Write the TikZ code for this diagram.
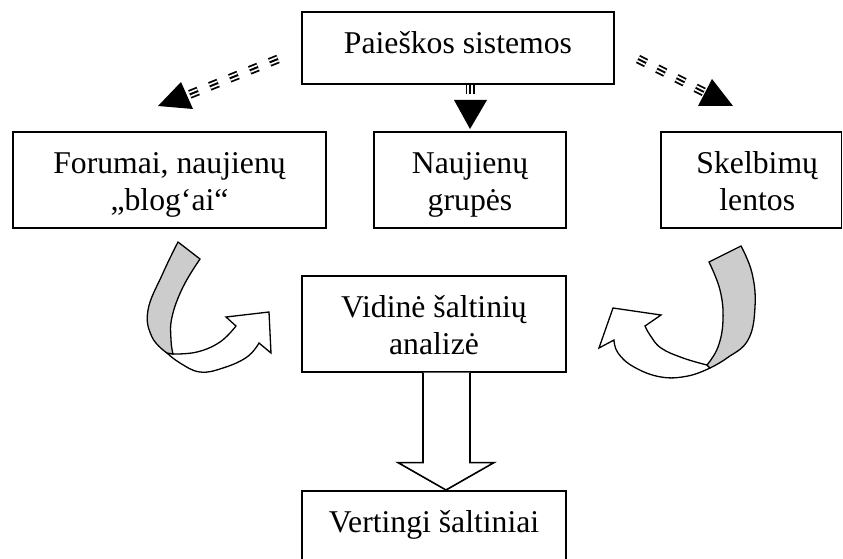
\documentclass[tikz,border=0pt]{standalone}
\usepackage{fontspec}
\setmainfont{Liberation Serif}
\usetikzlibrary{calc}
\begin{document}
\begin{tikzpicture}[x=1pt,y=-1pt,
  box/.style={draw, line width=1.6pt, inner sep=0pt, anchor=north, align=center,
    font=\fontsize{31.7pt}{37pt}\selectfont},
  tripledash/.style={line width=2pt, dash pattern=on 9pt off 12.5pt,
    preaction={draw, black, line width=9pt, dash pattern=on 9pt off 12.5pt},
    preaction={draw, white, line width=5.4pt, dash pattern=on 9pt off 12.5pt}},
  head/.style={fill=black},
  curvew/.style={draw, fill=white, line width=1.3pt, line join=miter},
  curveg/.style={draw, fill=gray!40, line width=1.3pt, line join=miter},
  bigarrow/.style={draw, fill=white, line width=1.6pt, line join=miter}]
\useasboundingbox (0,0) rectangle (843,559);

% boxes
\node[box, minimum width=312pt] (top) at (458,11) {\rule[-30pt]{0pt}{72pt}Paieškos sistemos};
\node[box, minimum width=313pt] (forum) at (169.5,131) {\rule{0pt}{42pt}Forumai, naujienų\\„blog‘ai“\rule[-17pt]{0pt}{17pt}};
\node[box, minimum width=192pt] (naujienu) at (470,131) {\rule{0pt}{42pt}Naujienų\\grupės\rule[-17pt]{0pt}{17pt}};
\node[box, minimum width=180.5pt] (skelb) at (751.25,131) {\rule{0pt}{42pt}\hspace*{12pt}Skelbimų\\\hspace*{12pt}lentos\rule[-17pt]{0pt}{17pt}};
\node[box, minimum width=264pt] (vid) at (434,275) {\rule{0pt}{42pt}Vidinė šaltinių\\analizė\rule[-17pt]{0pt}{17pt}};
\node[box, minimum width=264pt] (vert) at (434,490) {\rule[-30pt]{0pt}{72pt}Vertingi šaltiniai};

% dashed triple-line arrows
\coordinate (l0) at (278,59);
\coordinate (l1) at (187,95.5);
\draw[tripledash] (l0) -- (l1);
\fill[head] (158,106) -- (181,82) -- (193,109) -- cycle;

\coordinate (m0) at ($(top.south)+(12,0)$);
\coordinate (m1) at (470,100);
\draw[tripledash] (m0) -- (m1);
\fill[head] ($(naujienu.north)+(0,-2)$) -- (454,100) -- (487,100) -- cycle;

\coordinate (r0) at (638,59);
\coordinate (r1) at (705,92.5);
\draw[tripledash] (r0) -- (r1);
\fill[head] (733,106) -- (712,79) -- (698,106) -- cycle;

% left curved arrow
\path[curvew] (173,354) -- plot[smooth, tension=0.7] coordinates {(173,354) (197,352) (220,342) (236,326)}
  -- (226,317) -- (269,312) -- (271,353) -- (259,343)
  -- plot[smooth, tension=0.7] coordinates {(259,343) (247,357) (223,368) (200,372) (180,363) (167,353)} -- cycle;
\path[curveg] (178,242) -- (200,259)
  -- plot[smooth, tension=0.7] coordinates {(200,259) (183,287) (172,317) (171,340) (173,354)}
  -- (167,353)
  -- plot[smooth, tension=0.7] coordinates {(167,353) (152,337) (148,310) (163,273) (178,242)} -- cycle;

% right curved arrow
\path[curvew] (707,365) -- plot[smooth, tension=0.7] coordinates {(707,365) (683,358) (661,348) (650,335) (645,326)}
  -- (661,315) -- (613,308) -- (599,348) -- (614,340)
  -- plot[smooth, tension=0.7] coordinates {(614,340) (618,353) (634,367) (661,377) (688,376) (710,368)} -- cycle;
\path[curveg] (709,262) -- (741,246)
  -- plot[smooth, tension=0.7] coordinates {(741,246) (752,273) (755,307) (748,340) (727,358) (710,368)}
  -- (707,365)
  -- plot[smooth, tension=0.7] coordinates {(707,365) (718,347) (723,320) (720,290) (709,262)} -- cycle;

% big block arrow
\path[bigarrow] ($(vid.south)+(-11,0)$) -- ($(vid.south)+(-11,90)$) -- ($(vid.south)+(-36,90)$)
  -- ($(vert.north)+(12,0)$) -- ($(vid.south)+(60,90)$) -- ($(vid.south)+(36,90)$) -- ($(vid.south)+(36,0)$);
\end{tikzpicture}
\end{document}
